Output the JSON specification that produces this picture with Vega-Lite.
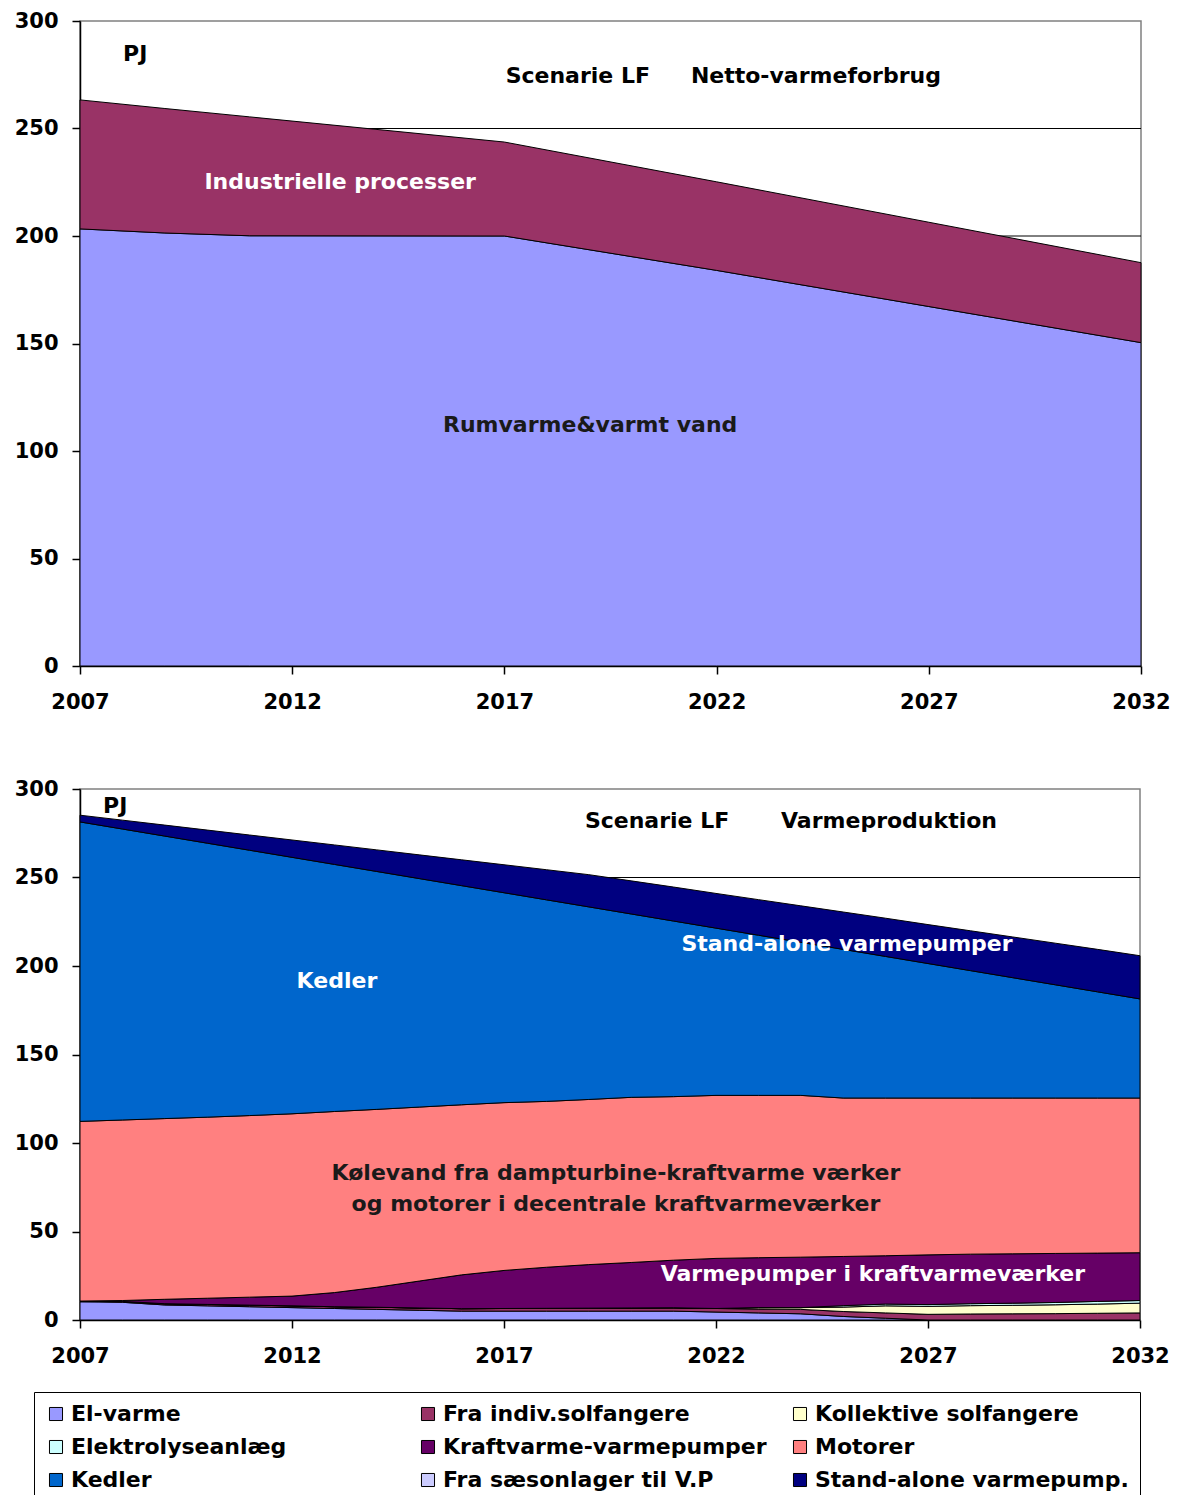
{
  "$schema": "https://vega.github.io/schema/vega-lite/v6.json",
  "background": "white",
  "padding": {"left": 13, "top": 9, "right": 5, "bottom": 0},
  "spacing": 64,
  "config": {
    "font": "DejaVu Sans",
    "view": {"stroke": "#808080", "strokeWidth": 1.5},
    "axis": {
      "labelFont": "DejaVu Sans", "labelFontWeight": "bold", "labelFontSize": 21, "labelColor": "black",
      "domainColor": "black", "domainWidth": 1.5, "tickColor": "black", "tickWidth": 1.5, "tickSize": 8,
      "gridColor": "black", "gridWidth": 1, "title": null, "labelFlush": false
    },
    "text": {"font": "DejaVu Sans", "fontWeight": "bold", "fontSize": 22, "color": "black"}
  },
  "datasets": {
    "netto": [
      {"år": 2007, "kategori": "Rumvarme&varmt vand", "PJ": 203.3},
      {"år": 2009, "kategori": "Rumvarme&varmt vand", "PJ": 201.4},
      {"år": 2011, "kategori": "Rumvarme&varmt vand", "PJ": 200.1},
      {"år": 2017, "kategori": "Rumvarme&varmt vand", "PJ": 200.0},
      {"år": 2022, "kategori": "Rumvarme&varmt vand", "PJ": 184.0},
      {"år": 2027, "kategori": "Rumvarme&varmt vand", "PJ": 167.2},
      {"år": 2032, "kategori": "Rumvarme&varmt vand", "PJ": 150.4},
      {"år": 2007, "kategori": "Industrielle processer", "PJ": 60.0},
      {"år": 2009, "kategori": "Industrielle processer", "PJ": 57.9},
      {"år": 2011, "kategori": "Industrielle processer", "PJ": 55.3},
      {"år": 2017, "kategori": "Industrielle processer", "PJ": 43.7},
      {"år": 2022, "kategori": "Industrielle processer", "PJ": 41.2},
      {"år": 2027, "kategori": "Industrielle processer", "PJ": 39.2},
      {"år": 2032, "kategori": "Industrielle processer", "PJ": 37.2}
    ],
    "rækkefølge": [
      {"kilde": "El-varme", "nr": 1},
      {"kilde": "Fra indiv.solfangere", "nr": 2},
      {"kilde": "Kollektive solfangere", "nr": 3},
      {"kilde": "Elektrolyseanlæg", "nr": 4},
      {"kilde": "Kraftvarme-varmepumper", "nr": 5},
      {"kilde": "Motorer", "nr": 6},
      {"kilde": "Kedler", "nr": 7},
      {"kilde": "Fra sæsonlager til V.P", "nr": 8},
      {"kilde": "Stand-alone varmepump.", "nr": 9}
    ],
    "produktion": [
      {"år": 2007, "kilde": "El-varme", "PJ": 10.4},
      {"år": 2008, "kilde": "El-varme", "PJ": 10.0},
      {"år": 2009, "kilde": "El-varme", "PJ": 8.5},
      {"år": 2010, "kilde": "El-varme", "PJ": 8.0},
      {"år": 2011, "kilde": "El-varme", "PJ": 7.5},
      {"år": 2012, "kilde": "El-varme", "PJ": 7.0},
      {"år": 2013, "kilde": "El-varme", "PJ": 6.5},
      {"år": 2014, "kilde": "El-varme", "PJ": 6.0},
      {"år": 2015, "kilde": "El-varme", "PJ": 5.5},
      {"år": 2016, "kilde": "El-varme", "PJ": 5.0},
      {"år": 2017, "kilde": "El-varme", "PJ": 5.0},
      {"år": 2018, "kilde": "El-varme", "PJ": 5.0},
      {"år": 2019, "kilde": "El-varme", "PJ": 5.0},
      {"år": 2020, "kilde": "El-varme", "PJ": 5.0},
      {"år": 2021, "kilde": "El-varme", "PJ": 5.0},
      {"år": 2022, "kilde": "El-varme", "PJ": 4.5},
      {"år": 2023, "kilde": "El-varme", "PJ": 4.0},
      {"år": 2024, "kilde": "El-varme", "PJ": 3.5},
      {"år": 2025, "kilde": "El-varme", "PJ": 2.0},
      {"år": 2026, "kilde": "El-varme", "PJ": 1.0},
      {"år": 2027, "kilde": "El-varme", "PJ": 0},
      {"år": 2028, "kilde": "El-varme", "PJ": 0},
      {"år": 2029, "kilde": "El-varme", "PJ": 0},
      {"år": 2030, "kilde": "El-varme", "PJ": 0},
      {"år": 2031, "kilde": "El-varme", "PJ": 0},
      {"år": 2032, "kilde": "El-varme", "PJ": 0},
      {"år": 2007, "kilde": "Fra indiv.solfangere", "PJ": 0},
      {"år": 2008, "kilde": "Fra indiv.solfangere", "PJ": 0.5},
      {"år": 2009, "kilde": "Fra indiv.solfangere", "PJ": 0.7},
      {"år": 2010, "kilde": "Fra indiv.solfangere", "PJ": 0.8},
      {"år": 2011, "kilde": "Fra indiv.solfangere", "PJ": 0.9},
      {"år": 2012, "kilde": "Fra indiv.solfangere", "PJ": 1.0},
      {"år": 2013, "kilde": "Fra indiv.solfangere", "PJ": 1.0},
      {"år": 2014, "kilde": "Fra indiv.solfangere", "PJ": 1.2},
      {"år": 2015, "kilde": "Fra indiv.solfangere", "PJ": 1.3},
      {"år": 2016, "kilde": "Fra indiv.solfangere", "PJ": 1.4},
      {"år": 2017, "kilde": "Fra indiv.solfangere", "PJ": 1.5},
      {"år": 2018, "kilde": "Fra indiv.solfangere", "PJ": 1.6},
      {"år": 2019, "kilde": "Fra indiv.solfangere", "PJ": 1.7},
      {"år": 2020, "kilde": "Fra indiv.solfangere", "PJ": 1.8},
      {"år": 2021, "kilde": "Fra indiv.solfangere", "PJ": 1.9},
      {"år": 2022, "kilde": "Fra indiv.solfangere", "PJ": 2.0},
      {"år": 2023, "kilde": "Fra indiv.solfangere", "PJ": 2.2},
      {"år": 2024, "kilde": "Fra indiv.solfangere", "PJ": 2.5},
      {"år": 2025, "kilde": "Fra indiv.solfangere", "PJ": 2.8},
      {"år": 2026, "kilde": "Fra indiv.solfangere", "PJ": 3.0},
      {"år": 2027, "kilde": "Fra indiv.solfangere", "PJ": 3.2},
      {"år": 2028, "kilde": "Fra indiv.solfangere", "PJ": 3.4},
      {"år": 2029, "kilde": "Fra indiv.solfangere", "PJ": 3.5},
      {"år": 2030, "kilde": "Fra indiv.solfangere", "PJ": 3.6},
      {"år": 2031, "kilde": "Fra indiv.solfangere", "PJ": 3.8},
      {"år": 2032, "kilde": "Fra indiv.solfangere", "PJ": 4.0},
      {"år": 2007, "kilde": "Kollektive solfangere", "PJ": 0},
      {"år": 2008, "kilde": "Kollektive solfangere", "PJ": 0},
      {"år": 2009, "kilde": "Kollektive solfangere", "PJ": 0},
      {"år": 2010, "kilde": "Kollektive solfangere", "PJ": 0},
      {"år": 2011, "kilde": "Kollektive solfangere", "PJ": 0},
      {"år": 2012, "kilde": "Kollektive solfangere", "PJ": 0},
      {"år": 2013, "kilde": "Kollektive solfangere", "PJ": 0},
      {"år": 2014, "kilde": "Kollektive solfangere", "PJ": 0},
      {"år": 2015, "kilde": "Kollektive solfangere", "PJ": 0},
      {"år": 2016, "kilde": "Kollektive solfangere", "PJ": 0},
      {"år": 2017, "kilde": "Kollektive solfangere", "PJ": 0},
      {"år": 2018, "kilde": "Kollektive solfangere", "PJ": 0},
      {"år": 2019, "kilde": "Kollektive solfangere", "PJ": 0},
      {"år": 2020, "kilde": "Kollektive solfangere", "PJ": 0},
      {"år": 2021, "kilde": "Kollektive solfangere", "PJ": 0},
      {"år": 2022, "kilde": "Kollektive solfangere", "PJ": 0},
      {"år": 2023, "kilde": "Kollektive solfangere", "PJ": 0.8},
      {"år": 2024, "kilde": "Kollektive solfangere", "PJ": 1.0},
      {"år": 2025, "kilde": "Kollektive solfangere", "PJ": 2.5},
      {"år": 2026, "kilde": "Kollektive solfangere", "PJ": 4.0},
      {"år": 2027, "kilde": "Kollektive solfangere", "PJ": 4.5},
      {"år": 2028, "kilde": "Kollektive solfangere", "PJ": 4.7},
      {"år": 2029, "kilde": "Kollektive solfangere", "PJ": 4.8},
      {"år": 2030, "kilde": "Kollektive solfangere", "PJ": 5.0},
      {"år": 2031, "kilde": "Kollektive solfangere", "PJ": 5.2},
      {"år": 2032, "kilde": "Kollektive solfangere", "PJ": 5.5},
      {"år": 2007, "kilde": "Elektrolyseanlæg", "PJ": 0},
      {"år": 2008, "kilde": "Elektrolyseanlæg", "PJ": 0},
      {"år": 2009, "kilde": "Elektrolyseanlæg", "PJ": 0},
      {"år": 2010, "kilde": "Elektrolyseanlæg", "PJ": 0},
      {"år": 2011, "kilde": "Elektrolyseanlæg", "PJ": 0},
      {"år": 2012, "kilde": "Elektrolyseanlæg", "PJ": 0},
      {"år": 2013, "kilde": "Elektrolyseanlæg", "PJ": 0},
      {"år": 2014, "kilde": "Elektrolyseanlæg", "PJ": 0},
      {"år": 2015, "kilde": "Elektrolyseanlæg", "PJ": 0},
      {"år": 2016, "kilde": "Elektrolyseanlæg", "PJ": 0},
      {"år": 2017, "kilde": "Elektrolyseanlæg", "PJ": 0},
      {"år": 2018, "kilde": "Elektrolyseanlæg", "PJ": 0},
      {"år": 2019, "kilde": "Elektrolyseanlæg", "PJ": 0},
      {"år": 2020, "kilde": "Elektrolyseanlæg", "PJ": 0},
      {"år": 2021, "kilde": "Elektrolyseanlæg", "PJ": 0},
      {"år": 2022, "kilde": "Elektrolyseanlæg", "PJ": 0},
      {"år": 2023, "kilde": "Elektrolyseanlæg", "PJ": 0},
      {"år": 2024, "kilde": "Elektrolyseanlæg", "PJ": 0},
      {"år": 2025, "kilde": "Elektrolyseanlæg", "PJ": 0.8},
      {"år": 2026, "kilde": "Elektrolyseanlæg", "PJ": 1.0},
      {"år": 2027, "kilde": "Elektrolyseanlæg", "PJ": 1.0},
      {"år": 2028, "kilde": "Elektrolyseanlæg", "PJ": 1.1},
      {"år": 2029, "kilde": "Elektrolyseanlæg", "PJ": 1.2},
      {"år": 2030, "kilde": "Elektrolyseanlæg", "PJ": 1.3},
      {"år": 2031, "kilde": "Elektrolyseanlæg", "PJ": 1.5},
      {"år": 2032, "kilde": "Elektrolyseanlæg", "PJ": 1.5},
      {"år": 2007, "kilde": "Kraftvarme-varmepumper", "PJ": 0.3},
      {"år": 2008, "kilde": "Kraftvarme-varmepumper", "PJ": 0.5},
      {"år": 2009, "kilde": "Kraftvarme-varmepumper", "PJ": 2.5},
      {"år": 2010, "kilde": "Kraftvarme-varmepumper", "PJ": 3.5},
      {"år": 2011, "kilde": "Kraftvarme-varmepumper", "PJ": 4.5},
      {"år": 2012, "kilde": "Kraftvarme-varmepumper", "PJ": 5.5},
      {"år": 2013, "kilde": "Kraftvarme-varmepumper", "PJ": 8.0},
      {"år": 2014, "kilde": "Kraftvarme-varmepumper", "PJ": 11.3},
      {"år": 2015, "kilde": "Kraftvarme-varmepumper", "PJ": 15.2},
      {"år": 2016, "kilde": "Kraftvarme-varmepumper", "PJ": 19.1},
      {"år": 2017, "kilde": "Kraftvarme-varmepumper", "PJ": 21.5},
      {"år": 2018, "kilde": "Kraftvarme-varmepumper", "PJ": 23.2},
      {"år": 2019, "kilde": "Kraftvarme-varmepumper", "PJ": 24.6},
      {"år": 2020, "kilde": "Kraftvarme-varmepumper", "PJ": 25.7},
      {"år": 2021, "kilde": "Kraftvarme-varmepumper", "PJ": 26.9},
      {"år": 2022, "kilde": "Kraftvarme-varmepumper", "PJ": 28.3},
      {"år": 2023, "kilde": "Kraftvarme-varmepumper", "PJ": 28.2},
      {"år": 2024, "kilde": "Kraftvarme-varmepumper", "PJ": 28.5},
      {"år": 2025, "kilde": "Kraftvarme-varmepumper", "PJ": 27.8},
      {"år": 2026, "kilde": "Kraftvarme-varmepumper", "PJ": 27.3},
      {"år": 2027, "kilde": "Kraftvarme-varmepumper", "PJ": 28.1},
      {"år": 2028, "kilde": "Kraftvarme-varmepumper", "PJ": 28.0},
      {"år": 2029, "kilde": "Kraftvarme-varmepumper", "PJ": 27.9},
      {"år": 2030, "kilde": "Kraftvarme-varmepumper", "PJ": 27.7},
      {"år": 2031, "kilde": "Kraftvarme-varmepumper", "PJ": 27.3},
      {"år": 2032, "kilde": "Kraftvarme-varmepumper", "PJ": 27.0},
      {"år": 2007, "kilde": "Motorer", "PJ": 101.5},
      {"år": 2008, "kilde": "Motorer", "PJ": 102.0},
      {"år": 2009, "kilde": "Motorer", "PJ": 102.1},
      {"år": 2010, "kilde": "Motorer", "PJ": 102.3},
      {"år": 2011, "kilde": "Motorer", "PJ": 102.6},
      {"år": 2012, "kilde": "Motorer", "PJ": 103.0},
      {"år": 2013, "kilde": "Motorer", "PJ": 102.3},
      {"år": 2014, "kilde": "Motorer", "PJ": 100.5},
      {"år": 2015, "kilde": "Motorer", "PJ": 98.3},
      {"år": 2016, "kilde": "Motorer", "PJ": 96.1},
      {"år": 2017, "kilde": "Motorer", "PJ": 94.8},
      {"år": 2018, "kilde": "Motorer", "PJ": 93.7},
      {"år": 2019, "kilde": "Motorer", "PJ": 93.3},
      {"år": 2020, "kilde": "Motorer", "PJ": 93.3},
      {"år": 2021, "kilde": "Motorer", "PJ": 92.4},
      {"år": 2022, "kilde": "Motorer", "PJ": 92.1},
      {"år": 2023, "kilde": "Motorer", "PJ": 91.7},
      {"år": 2024, "kilde": "Motorer", "PJ": 91.4},
      {"år": 2025, "kilde": "Motorer", "PJ": 89.5},
      {"år": 2026, "kilde": "Motorer", "PJ": 89.1},
      {"år": 2027, "kilde": "Motorer", "PJ": 88.6},
      {"år": 2028, "kilde": "Motorer", "PJ": 88.2},
      {"år": 2029, "kilde": "Motorer", "PJ": 88.0},
      {"år": 2030, "kilde": "Motorer", "PJ": 87.8},
      {"år": 2031, "kilde": "Motorer", "PJ": 87.6},
      {"år": 2032, "kilde": "Motorer", "PJ": 87.4},
      {"år": 2007, "kilde": "Kedler", "PJ": 169.2},
      {"år": 2008, "kilde": "Kedler", "PJ": 164.4},
      {"år": 2009, "kilde": "Kedler", "PJ": 159.6},
      {"år": 2010, "kilde": "Kedler", "PJ": 154.8},
      {"år": 2011, "kilde": "Kedler", "PJ": 149.9},
      {"år": 2012, "kilde": "Kedler", "PJ": 144.9},
      {"år": 2013, "kilde": "Kedler", "PJ": 139.6},
      {"år": 2014, "kilde": "Kedler", "PJ": 134.4},
      {"år": 2015, "kilde": "Kedler", "PJ": 129.1},
      {"år": 2016, "kilde": "Kedler", "PJ": 123.8},
      {"år": 2017, "kilde": "Kedler", "PJ": 118.6},
      {"år": 2018, "kilde": "Kedler", "PJ": 113.9},
      {"år": 2019, "kilde": "Kedler", "PJ": 108.8},
      {"år": 2020, "kilde": "Kedler", "PJ": 103.6},
      {"år": 2021, "kilde": "Kedler", "PJ": 99.2},
      {"år": 2022, "kilde": "Kedler", "PJ": 94.5},
      {"år": 2023, "kilde": "Kedler", "PJ": 90.5},
      {"år": 2024, "kilde": "Kedler", "PJ": 86.5},
      {"år": 2025, "kilde": "Kedler", "PJ": 84.0},
      {"år": 2026, "kilde": "Kedler", "PJ": 80.0},
      {"år": 2027, "kilde": "Kedler", "PJ": 76.0},
      {"år": 2028, "kilde": "Kedler", "PJ": 72.0},
      {"år": 2029, "kilde": "Kedler", "PJ": 68.0},
      {"år": 2030, "kilde": "Kedler", "PJ": 64.0},
      {"år": 2031, "kilde": "Kedler", "PJ": 60.0},
      {"år": 2032, "kilde": "Kedler", "PJ": 56.0},
      {"år": 2007, "kilde": "Stand-alone varmepump.", "PJ": 3.8},
      {"år": 2008, "kilde": "Stand-alone varmepump.", "PJ": 5.0},
      {"år": 2009, "kilde": "Stand-alone varmepump.", "PJ": 6.2},
      {"år": 2010, "kilde": "Stand-alone varmepump.", "PJ": 7.4},
      {"år": 2011, "kilde": "Stand-alone varmepump.", "PJ": 8.6},
      {"år": 2012, "kilde": "Stand-alone varmepump.", "PJ": 9.8},
      {"år": 2013, "kilde": "Stand-alone varmepump.", "PJ": 11.0},
      {"år": 2014, "kilde": "Stand-alone varmepump.", "PJ": 12.2},
      {"år": 2015, "kilde": "Stand-alone varmepump.", "PJ": 13.4},
      {"år": 2016, "kilde": "Stand-alone varmepump.", "PJ": 14.6},
      {"år": 2017, "kilde": "Stand-alone varmepump.", "PJ": 15.8},
      {"år": 2018, "kilde": "Stand-alone varmepump.", "PJ": 17.0},
      {"år": 2019, "kilde": "Stand-alone varmepump.", "PJ": 18.2},
      {"år": 2020, "kilde": "Stand-alone varmepump.", "PJ": 18.7},
      {"år": 2021, "kilde": "Stand-alone varmepump.", "PJ": 19.2},
      {"år": 2022, "kilde": "Stand-alone varmepump.", "PJ": 19.6},
      {"år": 2023, "kilde": "Stand-alone varmepump.", "PJ": 20.1},
      {"år": 2024, "kilde": "Stand-alone varmepump.", "PJ": 20.6},
      {"år": 2025, "kilde": "Stand-alone varmepump.", "PJ": 21.1},
      {"år": 2026, "kilde": "Stand-alone varmepump.", "PJ": 21.6},
      {"år": 2027, "kilde": "Stand-alone varmepump.", "PJ": 22.0},
      {"år": 2028, "kilde": "Stand-alone varmepump.", "PJ": 22.5},
      {"år": 2029, "kilde": "Stand-alone varmepump.", "PJ": 23.0},
      {"år": 2030, "kilde": "Stand-alone varmepump.", "PJ": 23.5},
      {"år": 2031, "kilde": "Stand-alone varmepump.", "PJ": 24.0},
      {"år": 2032, "kilde": "Stand-alone varmepump.", "PJ": 24.4}
    ]
  },
  "resolve": {"scale": {"color": "independent"}, "legend": {"color": "independent"}},
  "vconcat": [
    {
      "width": 1061,
      "height": 645,
      "layer": [
        {
          "mark": {"type": "rule", "color": "black", "strokeWidth": 1},
          "data": {"values": [{"g": 50}, {"g": 100}, {"g": 150}, {"g": 200}, {"g": 250}]},
          "encoding": {"y": {"field": "g", "type": "quantitative"}}
        },
        {
          "data": {"name": "netto"},
          "mark": {"type": "area", "stroke": "black", "strokeWidth": 1, "interpolate": "linear"},
          "encoding": {
            "x": {"field": "år", "type": "quantitative",
              "scale": {"domain": [2007, 2032], "nice": false, "zero": false},
              "axis": {"values": [2007, 2012, 2017, 2022, 2027, 2032], "format": "d", "labelPadding": 17, "grid": false}},
            "y": {"field": "PJ", "type": "quantitative", "stack": "zero",
              "scale": {"domain": [0, 300], "nice": false},
              "axis": {"values": [0, 50, 100, 150, 200, 250, 300], "labelPadding": 14, "grid": false}},
            "color": {"field": "kategori", "type": "nominal",
              "scale": {"domain": ["Rumvarme&varmt vand", "Industrielle processer"], "range": ["#9999FF", "#993366"]},
              "legend": null},
            "order": {"field": "kategori", "sort": "descending"}
          }
        },
        {"data": {"values": [{}]}, "mark": {"type": "text", "text": "PJ"}, "encoding": {"x": {"datum": 2008.3}, "y": {"datum": 284.7}}},
        {"data": {"values": [{}]}, "mark": {"type": "text", "text": "Scenarie LF"}, "encoding": {"x": {"datum": 2018.73}, "y": {"datum": 274.4}}},
        {"data": {"values": [{}]}, "mark": {"type": "text", "text": "Netto-varmeforbrug"}, "encoding": {"x": {"datum": 2024.34}, "y": {"datum": 274.4}}},
        {"data": {"values": [{}]}, "mark": {"type": "text", "text": "Industrielle processer", "color": "white"}, "encoding": {"x": {"datum": 2013.13}, "y": {"datum": 225.1}}},
        {"data": {"values": [{}]}, "mark": {"type": "text", "text": "Rumvarme&varmt vand", "color": "#1a1a1a"}, "encoding": {"x": {"datum": 2019.02}, "y": {"datum": 112.1}}}
      ]
    },
    {
      "width": 1060,
      "height": 531,
      "layer": [
        {
          "mark": {"type": "rule", "color": "black", "strokeWidth": 1},
          "data": {"values": [{"g": 50}, {"g": 100}, {"g": 150}, {"g": 200}, {"g": 250}]},
          "encoding": {"y": {"field": "g", "type": "quantitative"}}
        },
        {
          "data": {"name": "produktion"},
          "transform": [
            {"lookup": "kilde", "from": {"data": {"name": "rækkefølge"}, "key": "kilde", "fields": ["nr"]}}
          ],
          "mark": {"type": "area", "stroke": "black", "strokeWidth": 1, "interpolate": "linear"},
          "encoding": {
            "x": {"field": "år", "type": "quantitative",
              "scale": {"domain": [2007, 2032], "nice": false, "zero": false},
              "axis": {"values": [2007, 2012, 2017, 2022, 2027, 2032], "format": "d", "labelPadding": 17, "grid": false}},
            "y": {"field": "PJ", "type": "quantitative", "stack": "zero",
              "scale": {"domain": [0, 300], "nice": false},
              "axis": {"values": [0, 50, 100, 150, 200, 250, 300], "labelPadding": 14, "grid": false}},
            "color": {"field": "kilde", "type": "nominal",
              "sort": ["El-varme", "Fra indiv.solfangere", "Kollektive solfangere", "Elektrolyseanlæg", "Kraftvarme-varmepumper", "Motorer", "Kedler", "Fra sæsonlager til V.P", "Stand-alone varmepump."],
              "scale": {
                "domain": ["El-varme", "Fra indiv.solfangere", "Kollektive solfangere", "Elektrolyseanlæg", "Kraftvarme-varmepumper", "Motorer", "Kedler", "Fra sæsonlager til V.P", "Stand-alone varmepump."],
                "range": ["#9999FF", "#993366", "#FFFFCC", "#CCFFFF", "#660066", "#FF8080", "#0066CC", "#CCCCFF", "#000080"]
              },
              "legend": {
                "orient": "none", "legendX": -46, "legendY": 603, "columns": 3, "direction": "horizontal",
                "title": null, "gridAlign": "all", "columnPadding": 22, "rowPadding": 11,
                "padding": 11, "strokeColor": "black", "fillColor": "white",
                "symbolType": "square", "symbolSize": 170, "symbolStrokeColor": "black", "symbolStrokeWidth": 1,
                "symbolOpacity": 1, "symbolOffset": 0,
                "labelFont": "DejaVu Sans", "labelFontWeight": "bold", "labelFontSize": 22, "labelColor": "black",
                "labelOffset": 4, "labelLimit": 400
              }
            },
            "order": {"field": "nr", "type": "quantitative", "sort": "ascending"}
          }
        },
        {"data": {"values": [{}]}, "mark": {"type": "text", "text": "PJ"}, "encoding": {"x": {"datum": 2007.83}, "y": {"datum": 290.5}}},
        {"data": {"values": [{}]}, "mark": {"type": "text", "text": "Scenarie LF"}, "encoding": {"x": {"datum": 2020.61}, "y": {"datum": 282}}},
        {"data": {"values": [{}]}, "mark": {"type": "text", "text": "Varmeproduktion"}, "encoding": {"x": {"datum": 2026.08}, "y": {"datum": 282}}},
        {"data": {"values": [{}]}, "mark": {"type": "text", "text": "Kedler", "color": "white"}, "encoding": {"x": {"datum": 2013.06}, "y": {"datum": 191.8}}},
        {"data": {"values": [{}]}, "mark": {"type": "text", "text": "Stand-alone varmepumper", "color": "white"}, "encoding": {"x": {"datum": 2025.09}, "y": {"datum": 212.6}}},
        {"data": {"values": [{}]}, "mark": {"type": "text", "text": ["Kølevand fra dampturbine-kraftvarme værker", "og motorer i decentrale kraftvarmeværker"], "color": "#1a1a1a", "lineHeight": 31}, "encoding": {"x": {"datum": 2019.64}, "y": {"datum": 82.9}}},
        {"data": {"values": [{}]}, "mark": {"type": "text", "text": "Varmepumper i kraftvarmeværker", "color": "white"}, "encoding": {"x": {"datum": 2025.7}, "y": {"datum": 25.9}}}
      ]
    }
  ]
}
